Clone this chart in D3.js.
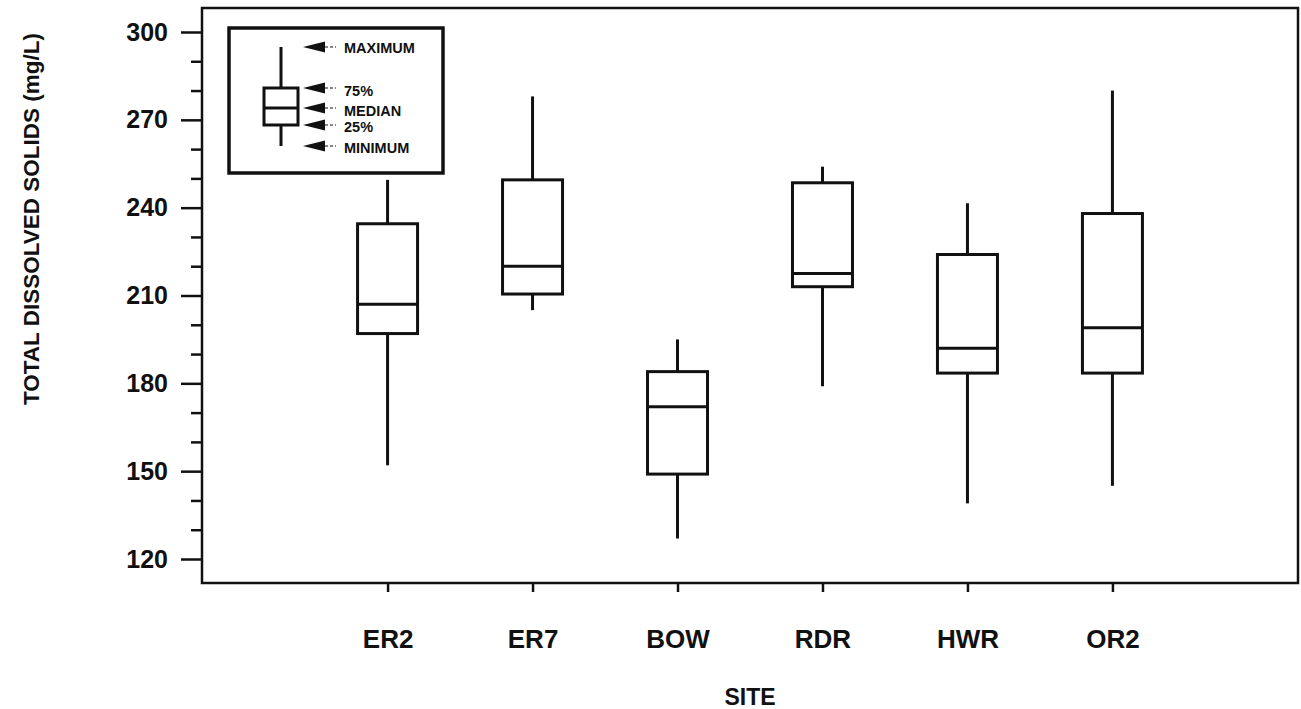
<!DOCTYPE html>
<html>
<head>
<meta charset="utf-8">
<script src="https://cdn.jsdelivr.net/npm/d3@7"></script>
<style>
  html, body { margin: 0; padding: 0; background: #fff; }
  svg { display: block; }
  text { font-family: "Liberation Sans", Arial, Helvetica, sans-serif; fill: #111; }
</style>
</head>
<body>
<svg id="chart" width="1301" height="709"></svg>
<script>
// Total dissolved solids by sampling site (mg/L)
const sites   = ["ER2", "ER7", "BOW", "RDR", "HWR", "OR2"];
const minimum = [152, 205, 127, 179, 139, 145];
const q25     = [197, 210.5, 149, 213, 183.5, 183.5];
const median  = [207, 220, 172, 217.5, 192, 199];
const q75     = [234.5, 249.5, 184, 248.5, 224, 238];
const maximum = [249.5, 278, 195, 254, 241.5, 280];
const yTicks  = [120, 150, 180, 210, 240, 270, 300];
const legendLabels = ["MAXIMUM", "75%", "MEDIAN", "25%", "MINIMUM"];

const svg = d3.select("#chart");
const ink = "#111";

const frame = { left: 202, right: 1298, top: 8, bottom: 583 };

const y = d3.scaleLinear().domain([120, 300]).range([559, 32]);
const x = d3.scalePoint().domain(sites).range([frame.left, frame.right]).padding(1.28);

// Plot frame
svg.append("rect")
  .attr("x", frame.left).attr("y", frame.top)
  .attr("width", frame.right - frame.left).attr("height", frame.bottom - frame.top)
  .attr("fill", "none").attr("stroke", ink).attr("stroke-width", 2.5);

// Y axis: major ticks with labels, minor ticks every 10
const yAxis = d3.axisLeft(y).tickValues(yTicks).tickSize(21).tickPadding(13).tickFormat(d3.format("d"));
const gy = svg.append("g").attr("transform", `translate(${frame.left},0)`).call(yAxis);
gy.select(".domain").remove();
gy.selectAll(".tick line").attr("stroke", ink).attr("stroke-width", 2.5);
gy.selectAll(".tick text")
  .attr("font-size", 25).attr("font-weight", "bold").attr("fill", ink)
  .style("font-family", "'Liberation Sans', Arial, sans-serif");

const minorVals = d3.range(130, 300, 10).filter(v => v % 30 !== 0);
const yMinor = d3.axisLeft(y).tickValues(minorVals).tickSize(11).tickFormat("");
const gym = svg.append("g").attr("transform", `translate(${frame.left},0)`).call(yMinor);
gym.select(".domain").remove();
gym.selectAll(".tick line").attr("stroke", ink).attr("stroke-width", 2.5);

// X axis: site ticks hanging below the frame
const xAxis = d3.axisBottom(x).tickSize(9).tickPadding(38);
const gx = svg.append("g").attr("transform", `translate(0,${frame.bottom})`).call(xAxis);
gx.select(".domain").remove();
gx.selectAll(".tick line").attr("stroke", ink).attr("stroke-width", 2.5);
gx.selectAll(".tick text")
  .attr("font-size", 26).attr("font-weight", "bold").attr("fill", ink)
  .style("font-family", "'Liberation Sans', Arial, sans-serif");

// Axis titles
svg.append("text")
  .attr("x", x("BOW") + (x("RDR") - x("BOW")) / 2).attr("y", 705)
  .attr("text-anchor", "middle").attr("font-size", 23).attr("font-weight", "bold")
  .text("SITE");

svg.append("text")
  .attr("transform", "translate(39,219) rotate(-90)")
  .attr("text-anchor", "middle").attr("font-size", 22.5).attr("font-weight", "bold")
  .text("TOTAL DISSOLVED SOLIDS (mg/L)");

// Box plots
const boxW = 60;
const data = sites.map((s, i) => ({
  site: s, min: minimum[i], q1: q25[i], med: median[i], q3: q75[i], max: maximum[i]
}));

const boxes = svg.append("g").selectAll("g").data(data).join("g")
  .attr("transform", d => `translate(${x(d.site)},0)`);

boxes.append("line")
  .attr("x1", 0).attr("x2", 0)
  .attr("y1", d => y(d.max)).attr("y2", d => y(d.q3))
  .attr("stroke", ink).attr("stroke-width", 3);
boxes.append("line")
  .attr("x1", 0).attr("x2", 0)
  .attr("y1", d => y(d.q1)).attr("y2", d => y(d.min))
  .attr("stroke", ink).attr("stroke-width", 3);
boxes.append("rect")
  .attr("x", -boxW / 2).attr("width", boxW)
  .attr("y", d => y(d.q3)).attr("height", d => y(d.q1) - y(d.q3))
  .attr("fill", "none").attr("stroke", ink).attr("stroke-width", 3);
boxes.append("line")
  .attr("x1", -boxW / 2).attr("x2", boxW / 2)
  .attr("y1", d => y(d.med)).attr("y2", d => y(d.med))
  .attr("stroke", ink).attr("stroke-width", 3);

// Legend: schematic box with labelled arrows
const lg = svg.append("g");
lg.append("rect")
  .attr("x", 229).attr("y", 28).attr("width", 214).attr("height", 145)
  .attr("fill", "#fff").attr("stroke", ink).attr("stroke-width", 3.5);

const lx = 281, lBoxW = 34;
const lY = { max: 47, q3: 88, med: 108, q1: 125, min: 146 };
lg.append("line").attr("x1", lx).attr("x2", lx).attr("y1", lY.max).attr("y2", lY.q3)
  .attr("stroke", ink).attr("stroke-width", 3);
lg.append("line").attr("x1", lx).attr("x2", lx).attr("y1", lY.q1).attr("y2", lY.min)
  .attr("stroke", ink).attr("stroke-width", 3);
lg.append("rect").attr("x", lx - lBoxW / 2).attr("y", lY.q3)
  .attr("width", lBoxW).attr("height", lY.q1 - lY.q3)
  .attr("fill", "none").attr("stroke", ink).attr("stroke-width", 3);
lg.append("line").attr("x1", lx - lBoxW / 2).attr("x2", lx + lBoxW / 2)
  .attr("y1", lY.med).attr("y2", lY.med).attr("stroke", ink).attr("stroke-width", 3);

const arrowY = [lY.max, lY.q3, lY.med, lY.q1, lY.min];
const textY  = [48, 91, 111, 127, 148];
arrowY.forEach((ay, i) => {
  lg.append("path")
    .attr("d", `M303,${ay} L325,${ay - 5.5} L325,${ay + 5.5} Z`)
    .attr("fill", ink);
  lg.append("line").attr("x1", 325).attr("x2", 336).attr("y1", ay).attr("y2", ay)
    .attr("stroke", ink).attr("stroke-width", 1.2).attr("stroke-dasharray", "3,2");
  lg.append("text")
    .attr("x", 344).attr("y", textY[i]).attr("dy", "0.35em")
    .attr("font-size", 14.5).attr("font-weight", "bold")
    .text(legendLabels[i]);
});
</script>
</body>
</html>
